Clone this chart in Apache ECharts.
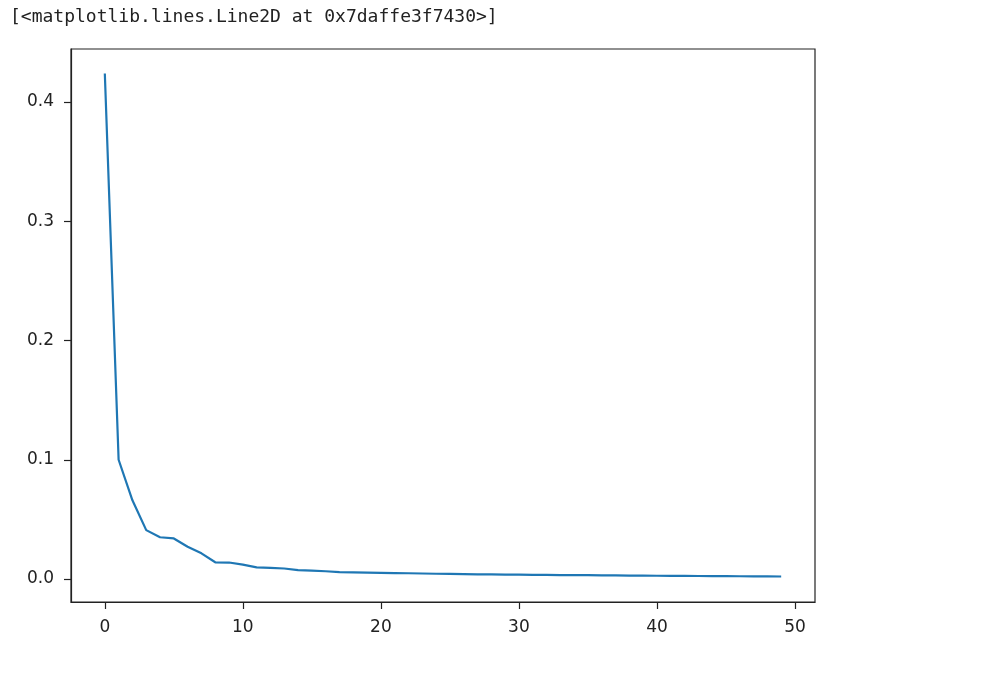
<!DOCTYPE html>
<html>
<head>
<meta charset="utf-8">
<script src="https://cdn.jsdelivr.net/npm/echarts@6/dist/echarts.min.js"></script>
<style>html,body{margin:0;padding:0;background:#fff}#c{width:987px;height:686px}</style>
</head>
<body>
<div id="c"></div>
<script>
const titleText = '[<matplotlib.lines.Line2D at 0x7daffe3f7430>]';
const xTicks = [0, 10, 20, 30, 40, 50];
const yTicks = [0.0, 0.1, 0.2, 0.3, 0.4];
const lossValues = [
  0.424, 0.100, 0.066, 0.041, 0.035, 0.034, 0.027, 0.0215, 0.014, 0.0138,
  0.012, 0.0098, 0.0093, 0.0088, 0.0075, 0.0070, 0.0065, 0.0058, 0.0056, 0.0054,
  0.0052, 0.0050, 0.0048, 0.0046, 0.0044, 0.0043, 0.0041, 0.0039, 0.0038, 0.0037,
  0.0036, 0.0035, 0.0034, 0.0033, 0.0033, 0.0032, 0.0031, 0.0030, 0.0029, 0.0028,
  0.0027, 0.0026, 0.0026, 0.0025, 0.0024, 0.0024, 0.0023, 0.0022, 0.0022, 0.0021
];
const seriesData = lossValues.map((v, i) => [i, v]);

const chart = echarts.init(document.getElementById('c'), null, {renderer: 'canvas'});
const labelStyle = {color: '#222', fontFamily: 'DejaVu Sans', fontSize: 17};
chart.setOption({
  animation: false,
  graphic: [{
    type: 'text', left: 10, top: 8,
    style: {text: titleText, font: '18px "DejaVu Sans Mono"', fill: '#222'}
  }],
  grid: {left: 71, top: 49, width: 744, height: 553, show: true, borderColor: '#222', borderWidth: 1.2, backgroundColor: '#fff'},
  xAxis: {
    type: 'value', min: -2.45, max: 51.45,
    splitLine: {show: false},
    axisLine: {show: true, onZero: false, lineStyle: {color: '#222', width: 1.2}},
    axisTick: {show: true, length: 7, customValues: xTicks, lineStyle: {color: '#222', width: 1.2}},
    axisLabel: Object.assign({customValues: xTicks, margin: 17, formatter: v => String(v)}, labelStyle)
  },
  yAxis: {
    type: 'value', min: -0.0193, max: 0.4445,
    splitLine: {show: false},
    axisLine: {show: true, onZero: false, lineStyle: {color: '#222', width: 1.2}},
    axisTick: {show: true, length: 7, customValues: yTicks, lineStyle: {color: '#222', width: 1.2}},
    axisLabel: Object.assign({customValues: yTicks, margin: 17, formatter: v => v.toFixed(1)}, labelStyle)
  },
  series: [{
    type: 'line', data: seriesData, showSymbol: false, symbol: 'none',
    lineStyle: {color: '#1f77b4', width: 2.2}, itemStyle: {color: '#1f77b4'}
  }]
});
</script>
</body>
</html>
